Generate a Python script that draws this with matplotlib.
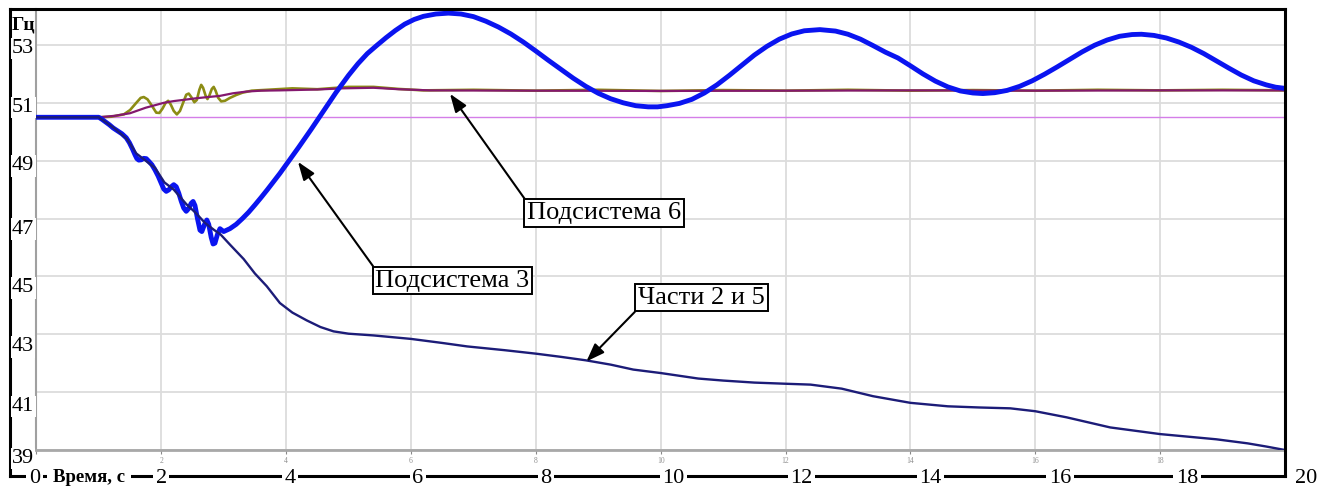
import matplotlib
matplotlib.use("Agg")
import matplotlib.pyplot as plt
from matplotlib.lines import Line2D

plt.rcParams['font.family'] = ['Liberation Serif', 'DejaVu Serif']

# --- data (time in s, frequency in Hz) ---
t_sub3 = [0, 1.0, 1.05, 1.1, 1.17, 1.23, 1.3, 1.37, 1.44, 1.49, 1.54, 1.58, 1.61, 1.64,
          1.68, 1.72, 1.76, 1.8, 1.85, 1.9, 1.95, 2.0, 2.04, 2.08, 2.12, 2.16, 2.2, 2.24,
          2.28, 2.32, 2.36, 2.4, 2.44, 2.48, 2.51, 2.54, 2.58, 2.62, 2.65, 2.69, 2.73,
          2.76, 2.8, 2.83, 2.86, 2.9, 2.94, 2.97, 3.0, 3.1, 3.2, 3.3, 3.4, 3.5, 3.6, 3.7,
          3.8, 3.9, 4.0, 4.2, 4.4, 4.6, 4.8, 5.0, 5.15, 5.3, 5.45, 5.6, 5.75, 5.9, 6.05,
          6.2, 6.4, 6.6, 6.8, 7.0, 7.2, 7.4, 7.6, 7.8, 8.0, 8.2, 8.4, 8.6, 8.8, 9.0, 9.2,
          9.4, 9.6, 9.8, 9.95, 10.1, 10.3, 10.5, 10.7, 10.9, 11.1, 11.3, 11.5, 11.7,
          11.9, 12.1, 12.3, 12.55, 12.8, 13.0, 13.2, 13.4, 13.6, 13.8, 14.0, 14.2, 14.4,
          14.6, 14.8, 15.0, 15.16, 15.35, 15.55, 15.75, 15.95, 16.15, 16.35, 16.55,
          16.75, 16.95, 17.15, 17.35, 17.55, 17.7, 17.9, 18.1, 18.3, 18.5, 18.7, 18.9,
          19.1, 19.3, 19.5, 19.7, 19.85, 20.0]
f_sub3 = [50.5, 50.5, 50.43, 50.35, 50.24, 50.13, 50.03, 49.93, 49.79, 49.62, 49.4, 49.2,
          49.07, 49.02, 49.03, 49.08, 49.07, 48.98, 48.86, 48.68, 48.47, 48.22, 48.02,
          47.94, 47.99, 48.1, 48.17, 48.1, 47.88, 47.6, 47.36, 47.25, 47.35, 47.53, 47.59,
          47.45, 47.0, 46.6, 46.55, 46.78, 46.95, 46.8, 46.35, 46.12, 46.15, 46.45, 46.65,
          46.6, 46.55, 46.65, 46.8, 47.0, 47.22, 47.47, 47.73, 48.0, 48.28, 48.56, 48.86,
          49.46, 50.08, 50.72, 51.36, 51.95, 52.35, 52.7, 52.98, 53.25, 53.5, 53.72, 53.88,
          53.99, 54.07, 54.1, 54.07, 53.98, 53.82, 53.62, 53.38, 53.1, 52.79, 52.47, 52.16,
          51.85, 51.57, 51.33, 51.14, 51.0, 50.9, 50.86, 50.86, 50.9, 50.98, 51.12, 51.34,
          51.62, 51.95, 52.3, 52.65, 52.95, 53.2, 53.38, 53.49, 53.53, 53.48, 53.37, 53.2,
          52.98, 52.75, 52.55, 52.28, 52.0, 51.75, 51.55, 51.41, 51.34, 51.32, 51.35,
          51.43, 51.57, 51.76, 51.99, 52.24, 52.5, 52.76, 52.99, 53.17, 53.3, 53.36,
          53.37, 53.33, 53.24, 53.1, 52.92, 52.7, 52.45, 52.2, 51.96, 51.76, 51.62,
          51.54, 51.5]

t_parts = [0, 1.0, 1.25, 1.45, 1.6, 1.75, 1.9, 2.05, 2.2, 2.4, 2.55, 2.7, 2.85, 2.95, 3.1,
           3.32, 3.5, 3.69, 3.9, 4.1, 4.33, 4.55, 4.76, 5.0, 5.4, 6.0, 6.5, 6.9, 7.5, 8.0,
           8.4, 8.8, 9.2, 9.56, 10.0, 10.6, 11.0, 11.5, 12.0, 12.4, 12.9, 13.4, 14.0,
           14.6, 15.1, 15.6, 16.0, 16.5, 17.2, 18.0, 18.5, 18.9, 19.4, 19.7, 20.0]
f_parts = [50.5, 50.5, 50.12, 49.75, 49.25, 49.0, 48.75, 48.25, 48.0, 47.5, 47.2, 46.85,
           46.6, 46.45, 46.1, 45.6, 45.1, 44.66, 44.08, 43.75, 43.48, 43.25, 43.1, 43.02,
           42.96, 42.84, 42.7, 42.58, 42.45, 42.33, 42.22, 42.1, 41.95, 41.78, 41.66,
           41.47, 41.4, 41.33, 41.29, 41.26, 41.12, 40.86, 40.63, 40.51, 40.47, 40.44,
           40.34, 40.13, 39.78, 39.55, 39.45, 39.37, 39.23, 39.12, 39.0]

t_olive = [0, 1.0, 1.2, 1.4, 1.5, 1.6, 1.67, 1.72, 1.78, 1.85, 1.92, 1.97, 2.02, 2.07, 2.11,
           2.15, 2.2, 2.25, 2.3, 2.35, 2.4, 2.44, 2.48, 2.53, 2.57, 2.61, 2.64, 2.67, 2.71,
           2.74, 2.77, 2.81, 2.84, 2.87, 2.91, 2.96, 3.02, 3.1, 3.2, 3.3, 3.45, 3.7, 4.1,
           4.5, 5.0, 5.4, 5.8, 6.2, 7.0, 8.0, 9.0, 10.0, 11.0, 12.0, 13.0, 14.0, 15.0,
           16.0, 17.0, 18.0, 19.0, 20.0]
f_olive = [50.5, 50.5, 50.52, 50.6, 50.75, 51.0, 51.17, 51.2, 51.12, 50.9, 50.66, 50.65,
           50.8, 51.0, 51.07, 50.95, 50.72, 50.6, 50.72, 51.0, 51.28, 51.32, 51.2, 51.02,
           51.1, 51.45, 51.62, 51.52, 51.25, 51.13, 51.25, 51.48, 51.55, 51.42, 51.18,
           51.05, 51.07, 51.17, 51.27, 51.35, 51.42, 51.45, 51.5, 51.47, 51.55, 51.55,
           51.48, 51.43, 51.45, 51.42, 51.45, 51.41, 51.44, 51.42, 51.45, 51.42, 51.44,
           51.42, 51.45, 51.43, 51.45, 51.43]

t_sub6 = [0, 1.0, 1.25, 1.5, 1.75, 2.04, 2.2, 2.35, 2.57, 2.75, 2.94, 3.15, 3.37, 3.6, 3.9,
          4.5, 4.9, 5.4, 5.8, 6.3, 8.0, 10.0, 12.0, 14.0, 16.0, 18.0, 20.0]
f_sub6 = [50.5, 50.5, 50.55, 50.64, 50.83, 51.0, 51.06, 51.1, 51.16, 51.2, 51.24, 51.33,
          51.39, 51.42, 51.43, 51.46, 51.5, 51.52, 51.47, 51.43, 51.42, 51.41, 51.42,
          51.43, 51.42, 51.43, 51.43]

t_ref = [0, 20]
f_ref = [50.5, 50.5]

y_ticks = [39, 41, 43, 45, 47, 49, 51, 53]
x_ticks = [0, 2, 4, 6, 8, 10, 12, 14, 16, 18, 20]

W, H = 1333, 488
fx = lambda px: px / W
fy = lambda py: 1 - py / H

fig = plt.figure(figsize=(W / 100, H / 100), dpi=100)
ax = fig.add_axes([fx(36.4), fy(450), fx(1285) - fx(36.4), fy(8.5) - fy(450)])

ax.plot(t_ref, f_ref, color='#d47ee8', lw=1.0, zorder=2)
ax.plot(t_olive, f_olive, color='#8c8c14', lw=1.9, zorder=3)
ax.plot(t_sub6, f_sub6, color='#84186e', lw=1.6, zorder=4)
ax.plot(t_sub3, f_sub3, color='#0a14f0', lw=3.5, zorder=5)
ax.plot(t_parts, f_parts, color='#1c1c78', lw=1.7, zorder=6)

ax.set_xlim(0, 20)
ax.set_ylim(39, 54.26)
ax.set_xticks(x_ticks)
ax.set_xticklabels([''] + [str(v) for v in x_ticks[1:-1]] + [''])
ax.set_yticks(y_ticks)
ax.tick_params(axis='y', length=0, labelleft=False)
ax.tick_params(axis='x', length=3, color='#888888', labelsize=5.5, labelcolor='#909090', pad=2)
ax.grid(color='#dcdcdc', lw=1.3, zorder=0)
for s in ['top', 'right']:
    ax.spines[s].set_visible(False)
ax.spines['left'].set_color('#a0a0a0')
ax.spines['left'].set_linewidth(1.5)
ax.spines['bottom'].set_color('#a8a8a8')
ax.spines['bottom'].set_linewidth(2)

# outer black frame
frame = dict(color='black', lw=2.2, solid_capstyle='projecting')
fig.add_artist(Line2D([fx(10), fx(1285)], [fy(8.5), fy(8.5)], **frame))
fig.add_artist(Line2D([fx(10), fx(10)], [fy(8.5), fy(476)], **frame))
fig.add_artist(Line2D([fx(1285), fx(1285)], [fy(8.5), fy(476)], **frame))
fig.add_artist(Line2D([fx(10), fx(1285)], [fy(476), fy(476)], **frame))

white = dict(facecolor='white', edgecolor='none', pad=1)

# y labels (slightly drifting below their gridlines, as in the original)
y_drift = [6, 12, 10, 9, 8, 2.5, 2, 1]
for v, d in zip(y_ticks, y_drift):
    py = 450 - (v - 39) * 28.93 + d
    fig.text(fx(12), fy(py), str(v), fontsize=16, ha='left', va='center_baseline', bbox=white)
fig.text(fx(12), fy(23), 'Гц', fontsize=14, fontweight='bold', ha='left', va='center_baseline')

# x labels on the bottom frame line
fig.text(fx(53), fy(475), 'Время, с', fontsize=13.5, fontweight='bold', ha='left',
         va='center_baseline', bbox=dict(facecolor='white', edgecolor='none', pad=4))
x_drift = [-2, 0, 4, 7, 10, 13, 16, 20, 25, 27, 21]
for v, d in zip(x_ticks, x_drift):
    px = 36.4 + v * 62.43 + d
    fig.text(fx(px), fy(476), str(v), fontsize=16, ha='center', va='center_baseline',
             bbox=dict(facecolor='white', edgecolor='none', pad=2))

# callouts
box = dict(boxstyle='square,pad=0.1', facecolor='white', edgecolor='black', lw=1.4)
arrow = dict(arrowstyle='-|>,head_length=0.55,head_width=0.2', color='black', lw=1.5,
             mutation_scale=20, shrinkA=0, shrinkB=0)
ax.annotate('Подсистема 6', xy=(6.625, 51.31), xytext=(fx(604), fy(213)),
            textcoords='figure fraction', fontsize=19, ha='center', va='center',
            bbox=box, arrowprops=dict(arrow, relpos=(0, 1)), zorder=8)
ax.annotate('Подсистема 3', xy=(4.19, 48.96), xytext=(fx(452.5), fy(280.5)),
            textcoords='figure fraction', fontsize=19, ha='center', va='center',
            bbox=box, arrowprops=dict(arrow, relpos=(0, 1)), zorder=8)
ax.annotate('Части 2 и 5', xy=(8.81, 42.06), xytext=(fx(701.5), fy(297.5)),
            textcoords='figure fraction', fontsize=19, ha='center', va='center',
            bbox=box, arrowprops=dict(arrow, relpos=(0, 0)), zorder=8)

fig.savefig('out.png', dpi=100)
